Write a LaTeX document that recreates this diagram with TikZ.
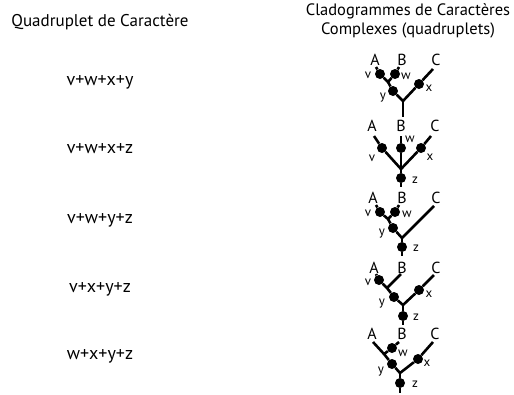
\documentclass[tikz,border=0pt]{standalone}
\usepackage{fontspec}
\setmainfont{PT Sans}
\usetikzlibrary{positioning}
\tikzset{dot/.style={circle,fill=black,inner sep=0pt,minimum size=10pt}}
\tikzset{taxon/.style={inner sep=0pt,anchor=base,font=\fontsize{16}{18}\selectfont}}
\tikzset{chr/.style={inner sep=0pt,font=\fontsize{13}{15}\selectfont}}
\tikzset{head/.style={inner sep=0pt,align=center,font=\fontsize{16.5}{18.5}\selectfont}}
\tikzset{quad/.style={inner sep=0pt,anchor=base,font=\fontsize{18}{20}\selectfont}}
\tikzset{branch/.style={line width=2.6pt}}

\begin{document}
\begin{tikzpicture}[x=1pt,y=-1pt]
    \useasboundingbox (0,0) rectangle (514,394);

    % column heads
    \node[head,anchor=base,font=\fontsize{17}{19}\selectfont] (hquad) at (100,26) {Quadruplet de Caract\`ere};
    \node[head] (hclad) at (408,21) {Cladogrammes de Caract\`eres\\Complexes (quadruplets)};

    % quadruplets
    \node[quad] (q1) at (100,85) {v+w+x+y};
    \node[quad] (q2) at (100,153) {v+w+x+z};
    \node[quad] (q3) at (100,223) {v+w+y+z};
    \node[quad] (q4) at (100,292) {v+x+y+z};
    \node[quad] (q5) at (100,359) {w+x+y+z};

    % cladogram 1 : v+w+x+y
    \node[taxon] (A1) at (375,65) {A};
    \node[taxon] (B1) at (402,65) {B};
    \node[taxon] (C1) at (436,65) {C};
    \coordinate (tA1) at (376,67);
    \coordinate (tB1) at (399,67);
    \coordinate (tC1) at (433,69);
    \coordinate (k1) at (388,82);
    \coordinate (r1) at (403,101);
    \coordinate (s1) at (403,117);
    \node[dot] (v1) at (380,74) {};
    \node[dot] (w1) at (395,74) {};
    \node[dot] (y1) at (393,91) {};
    \node[dot] (x1) at (419,84) {};
    \draw[branch] (tA1) -- (v1) -- (k1) -- (y1) -- (r1) -- (x1) -- (tC1);
    \draw[branch] (tB1) -- (w1) -- (k1);
    \draw[branch] (r1) -- (s1);
    \node[chr] (lv1) at (368,75) {v};
    \node[chr] (lw1) at (406,76) {w};
    \node[chr] (ly1) at (383,98) {y};
    \node[chr] (lx1) at (429,88) {x};

    % cladogram 2 : v+w+x+z
    \node[taxon] (A2) at (372,131) {A};
    \node[taxon] (B2) at (401,131) {B};
    \node[taxon] (C2) at (435,131) {C};
    \coordinate (tA2) at (374,136);
    \coordinate (tB2) at (401,136);
    \coordinate (tC2) at (431,136);
    \coordinate (r2) at (401,169);
    \coordinate (s2) at (401,187);
    \node[dot] (v2) at (382,148) {};
    \node[dot] (w2) at (401,148) {};
    \node[dot] (x2) at (421,148) {};
    \node[dot] (z2) at (401,178) {};
    \draw[branch] (tA2) -- (v2) -- (r2);
    \draw[branch] (tB2) -- (w2) -- (r2);
    \draw[branch] (tC2) -- (x2) -- (r2);
    \draw[branch] (r2) -- (z2) -- (s2);
    \node[chr] (lv2) at (372,158) {v};
    \node[chr] (lw2) at (410,139) {w};
    \node[chr] (lx2) at (430,157) {x};
    \node[chr] (lz2) at (415,180) {z};

    % cladogram 3 : v+w+y+z
    \node[taxon] (A3) at (373,203) {A};
    \node[taxon] (B3) at (402,203) {B};
    \node[taxon] (C3) at (436,203) {C};
    \coordinate (tA3) at (376,205);
    \coordinate (tB3) at (399,205);
    \coordinate (tC3) at (434,206);
    \coordinate (k3) at (388,219);
    \coordinate (r3) at (402,238);
    \coordinate (s3) at (402,256);
    \node[dot] (v3) at (380,212) {};
    \node[dot] (w3) at (395,212) {};
    \node[dot] (y3) at (393,228) {};
    \node[dot] (z3) at (402,247) {};
    \draw[branch] (tA3) -- (v3) -- (k3) -- (y3) -- (r3) -- (tC3);
    \draw[branch] (tB3) -- (w3) -- (k3);
    \draw[branch] (r3) -- (z3) -- (s3);
    \node[chr] (lv3) at (368,213) {v};
    \node[chr] (lw3) at (407,214) {w};
    \node[chr] (ly3) at (382,234) {y};
    \node[chr] (lz3) at (416,248) {z};

    % cladogram 4 : v+x+y+z
    \node[taxon] (A4) at (374,273) {A};
    \node[taxon] (B4) at (402,273) {B};
    \node[taxon] (C4) at (436,273) {C};
    \coordinate (tA4) at (376,274);
    \coordinate (tB4) at (401,274);
    \coordinate (tC4) at (434,275);
    \coordinate (k4) at (387,288);
    \coordinate (r4) at (403,305);
    \coordinate (s4) at (403,325);
    \node[dot] (v4) at (379,280) {};
    \node[dot] (y4) at (394,297) {};
    \node[dot] (x4) at (419,290) {};
    \node[dot] (z4) at (403,316) {};
    \draw[branch] (tA4) -- (v4) -- (k4) -- (y4) -- (r4) -- (x4) -- (tC4);
    \draw[branch] (tB4) -- (k4);
    \draw[branch] (r4) -- (z4) -- (s4);
    \node[chr] (lv4) at (368,282) {v};
    \node[chr] (ly4) at (382,304) {y};
    \node[chr] (lx4) at (429,294) {x};
    \node[chr] (lz4) at (416,317) {z};

    % cladogram 5 : w+x+y+z
    \node[taxon] (A5) at (372,339) {A};
    \node[taxon] (B5) at (402,339) {B};
    \node[taxon] (C5) at (435,339) {C};
    \coordinate (tA5) at (373,342);
    \coordinate (tB5) at (399,342);
    \coordinate (tC5) at (433,342);
    \coordinate (k5) at (384,354);
    \coordinate (r5) at (400,373);
    \coordinate (s5) at (400,393);
    \node[dot] (w5) at (392,348) {};
    \node[dot] (y5) at (392,364) {};
    \node[dot] (x5) at (418,359) {};
    \node[dot] (z5) at (400,383) {};
    \draw[branch] (tA5) -- (k5) -- (y5) -- (r5) -- (x5) -- (tC5);
    \draw[branch] (tB5) -- (w5) -- (k5);
    \draw[branch] (r5) -- (z5) -- (s5);
    \node[chr] (lw5) at (403,353) {w};
    \node[chr] (ly5) at (381,372) {y};
    \node[chr] (lx5) at (427,363) {x};
    \node[chr] (lz5) at (415,384) {z};
\end{tikzpicture}
\end{document}
